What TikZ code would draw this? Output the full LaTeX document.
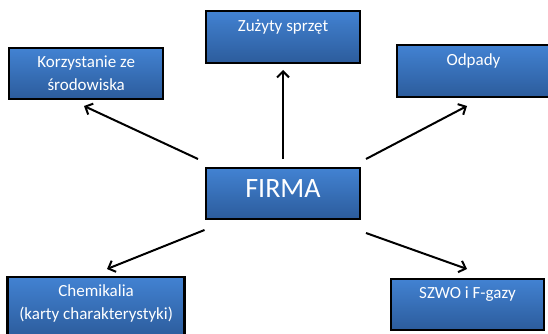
\documentclass[tikz,border=0pt]{standalone}
\usepackage{fontspec}
\setmainfont{Carlito}
\usetikzlibrary{arrows.meta,calc}
\begin{document}
\begin{tikzpicture}[x=1pt,y=-1pt,
  box/.style={draw=black, line width=2.3pt, top color=boxtop, bottom color=boxbot, inner sep=0pt},
  lbl/.style={text=white, font=\fontsize{17}{23}\selectfont, align=center, anchor=base, inner sep=0pt},
  conn/.style={line width=2pt, -{Straight Barb[length=6pt,width=12pt,line width=2pt]}}]
\definecolor{boxtop}{HTML}{4282D2}
\definecolor{boxbot}{HTML}{2C5C9C}
\useasboundingbox (0,0) rectangle (548,334);
\clip (0,0) rectangle (548,334);
% boxes
\node[box, minimum width=154pt, minimum height=52pt] (zuz) at (283,37) {};
\node[box, minimum width=154pt, minimum height=51pt] (korz) at (86.2,73.5) {};
\node[box, minimum width=153pt, minimum height=52pt] (odp) at (473.5,71) {};
\node[box, minimum width=154pt, minimum height=51pt] (firma) at (283,193.5) {};
\node[box, minimum width=177pt, minimum height=60pt] (chem) at (96.1,307) {};
\node[box, minimum width=153pt, minimum height=51pt] (szwo) at (467.5,304.5) {};
% labels (base anchor = last line's baseline)
\node[lbl] (tzuz) at ($(zuz.north)+(0,22)$) {Zużyty sprzęt};
\node[lbl] (tkorz) at ($(korz.north)+(0,44)$) {Korzystanie ze\\środowiska};
\node[lbl] (todp) at ($(odp.north)+(0,22)$) {Odpady};
\node[lbl, font=\fontsize{28}{30}\selectfont] (tfirma) at ($(firma.north)+(0,31)$) {FIRMA};
\node[lbl] (tchem) at ($(chem.north)+(0,44)$) {Chemikalia\\(karty charakterystyki)};
\node[lbl] (tszwo) at ($(szwo.north)+(0,21)$) {SZWO i F-gazy};
% connector ends
\coordinate (s1) at (283,159);
\coordinate (e1) at (283,70);
\coordinate (s2) at (198,159);
\coordinate (e2) at (84,106);
\coordinate (s3) at (366,159);
\coordinate (e3) at (467,106);
\coordinate (s4) at (204.5,230);
\coordinate (e4) at (107,269);
\coordinate (s5) at (366,233);
\coordinate (e5) at (467,269);
\draw[conn] (s1) -- (e1);
\draw[conn] (s2) -- (e2);
\draw[conn] (s3) -- (e3);
\draw[conn] (s4) -- (e4);
\draw[conn] (s5) -- (e5);
\end{tikzpicture}
\end{document}
